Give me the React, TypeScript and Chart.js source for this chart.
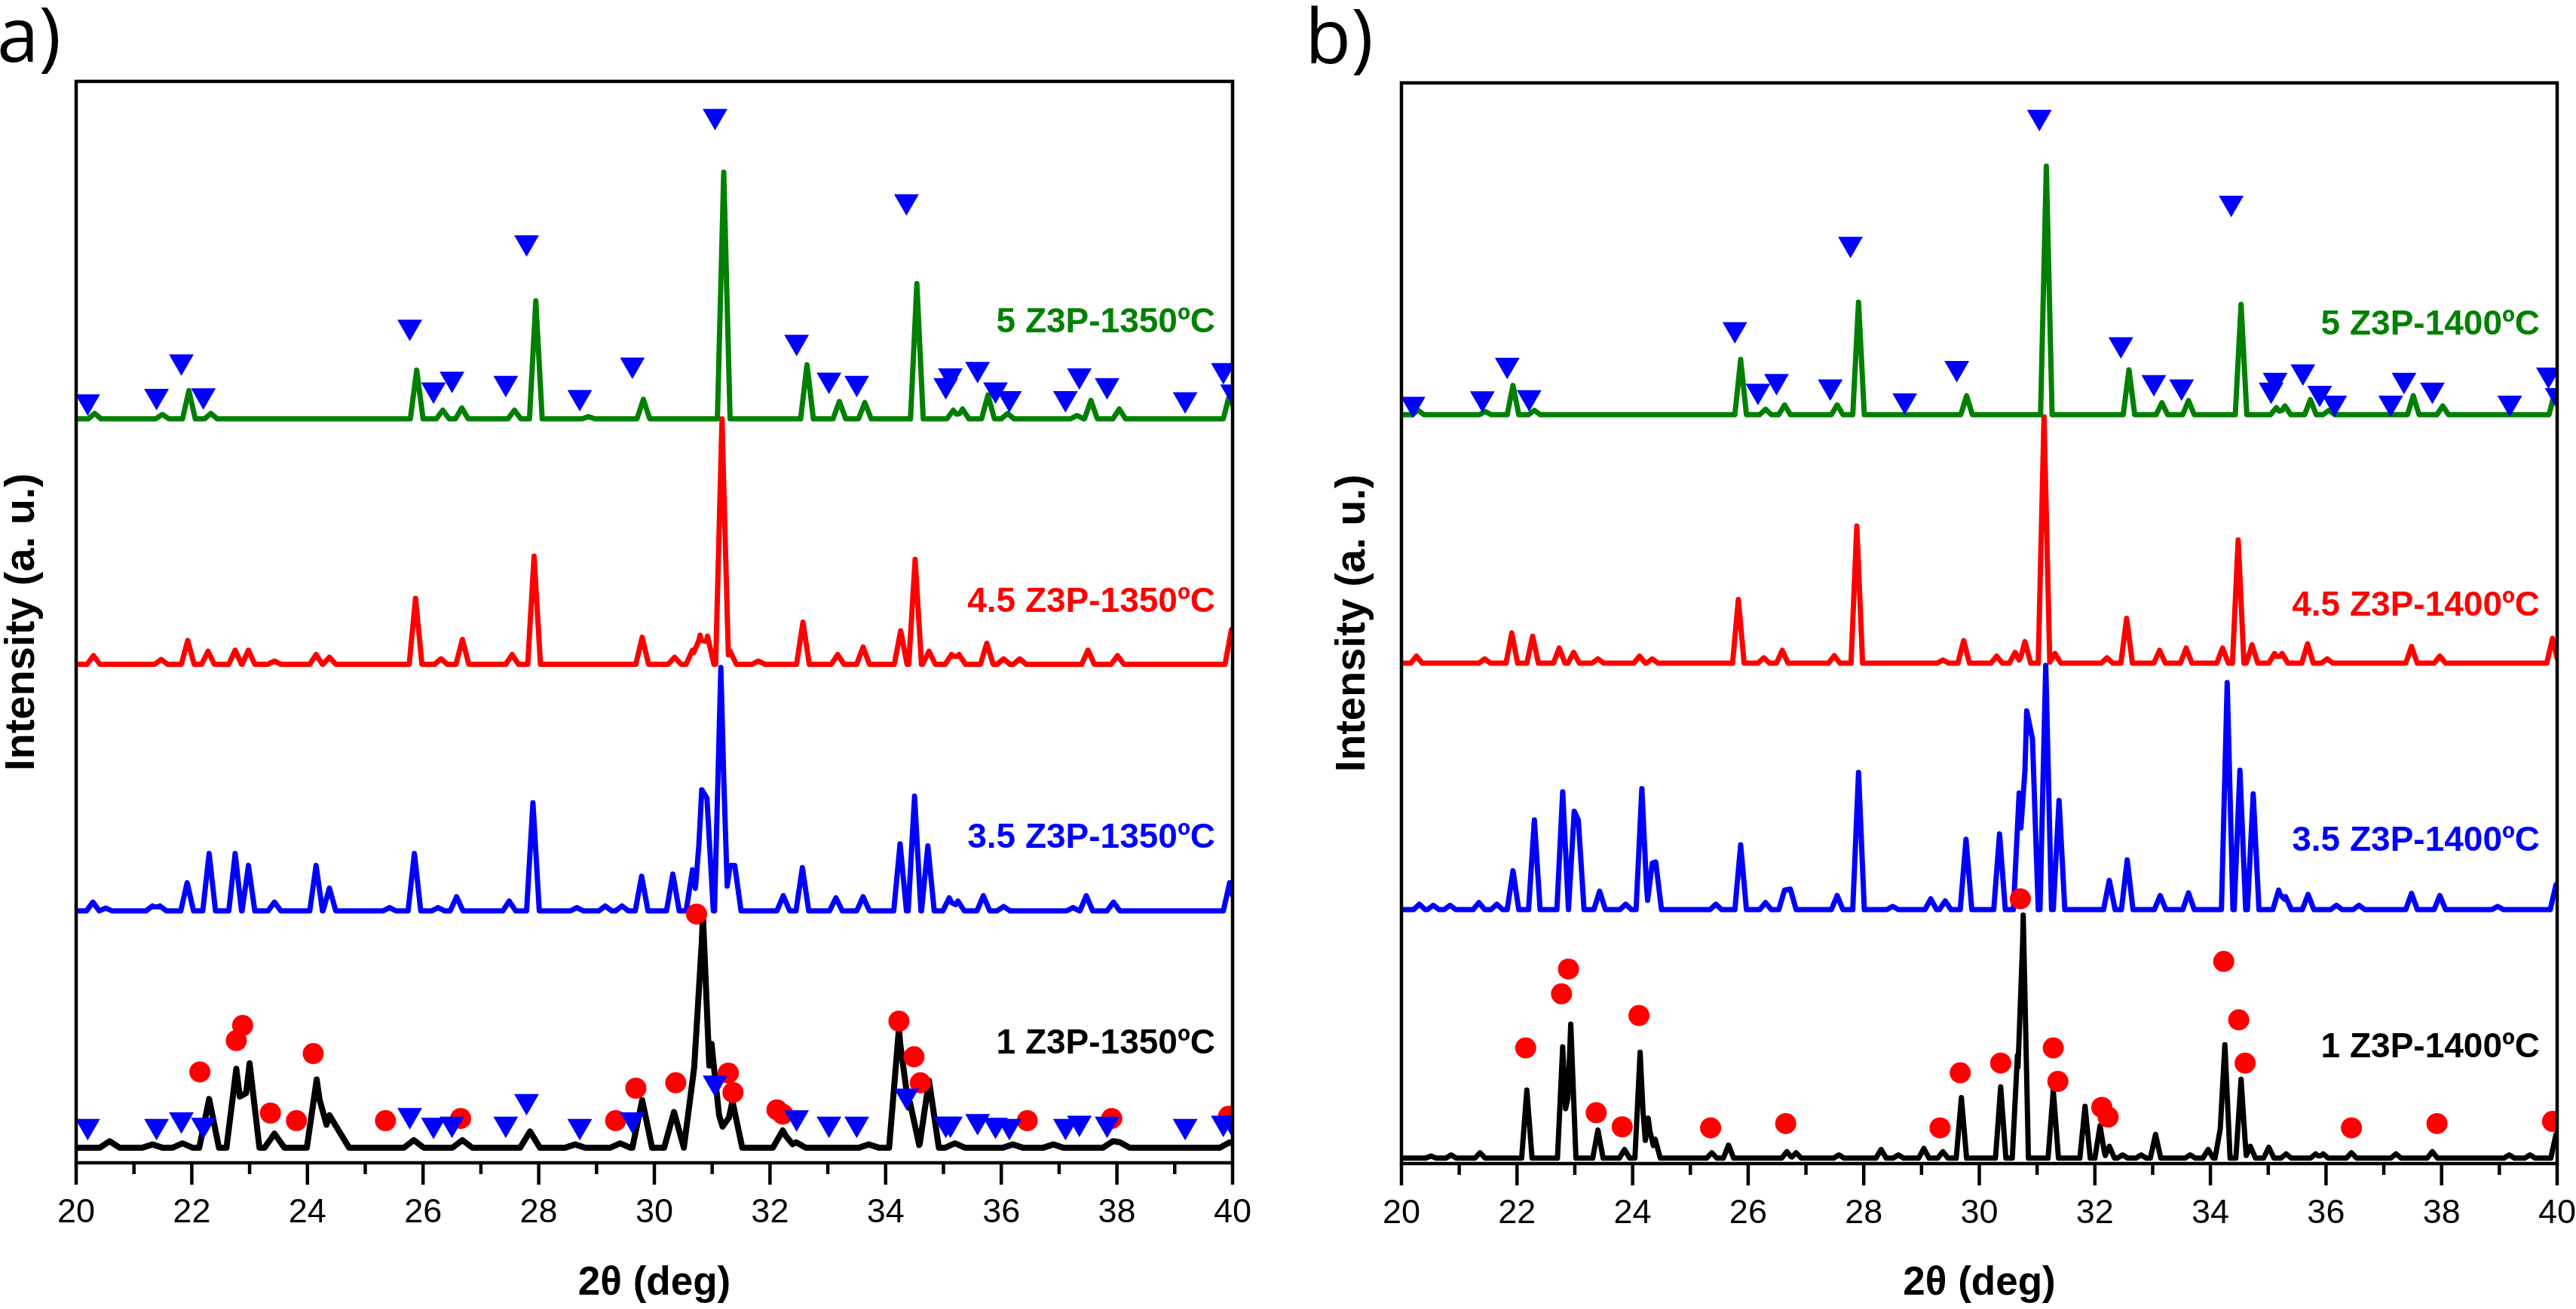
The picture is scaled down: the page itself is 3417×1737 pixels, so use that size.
import React, { useEffect, useRef } from 'react';
import { Chart, registerables } from 'chart.js';

Chart.register(...registerables);

// ---------- shared axis data ----------
const X_MIN = 20;
const X_MAX = 40;
const X_TICK_STEP = 2;
const Y_MIN = 0;
const Y_MAX = 100;

const COLORS = ['#008000', '#ff0000', '#0000ff', '#000000'];

// ---------- panel a (1350 ºC) ----------
const A_LABELS = ['5 Z3P-1350ºC', '4.5 Z3P-1350ºC', '3.5 Z3P-1350ºC', '1 Z3P-1350ºC'];
const A_LABEL_Y = [77.7, 51.8, 30.0, 11.0];
const A_BASELINES = [68.8, 46.1, 23.3, 1.4];

// peaks: [2θ, height above the pattern's baseline]
const A_GREEN: [number, number][] = [
  [20.32, 0.5], [21.49, 0.4], [21.95, 2.6], [22.33, 0.5], [25.89, 4.5], [26.34, 0.8], [26.67, 1.0],
  [27.58, 0.8], [27.95, 10.9], [28.86, 0.2], [29.81, 1.8], [31.2, 22.8], [32.64, 5.0], [33.2, 1.6],
  [33.64, 1.5], [34.54, 12.5], [35.17, 0.8], [35.33, 0.9], [35.77, 2.2], [36.11, 0.5], [37.31, 0.3],
  [37.55, 1.7], [38.04, 0.9], [39.95, 2.3],
];
const A_RED: [number, number][] = [
  [20.3, 0.8], [21.47, 0.45], [21.93, 2.2], [22.28, 1.2], [22.75, 1.3], [22.98, 1.3], [23.43, 0.3],
  [24.15, 0.9], [24.38, 0.65], [25.87, 6.1], [26.31, 0.5], [26.68, 2.3], [27.54, 0.9], [27.92, 10.0],
  [29.79, 2.5], [30.35, 0.65], [30.66, 1.3], [30.79, 2.7], [30.92, 2.6], [31.17, 22.7], [31.31, 1.2],
  [31.8, 0.3], [32.57, 3.9], [33.17, 0.9], [33.61, 1.6], [34.26, 3.1], [34.51, 9.7], [34.75, 1.2],
  [35.14, 0.9], [35.27, 0.9], [35.75, 1.95], [36.04, 0.5], [36.32, 0.5], [37.5, 1.3], [38.01, 0.8],
  [39.98, 3.2],
];
const A_BLUE: [number, number][] = [
  [20.29, 0.8], [20.51, 0.25], [21.32, 0.45], [21.45, 0.45], [21.92, 2.6], [22.3, 5.3], [22.75, 5.3],
  [22.98, 4.2], [23.43, 0.8], [24.15, 4.2], [24.38, 2.1], [25.42, 0.3], [25.85, 5.3], [26.26, 0.3],
  [26.58, 1.3], [27.49, 0.9], [27.9, 10.0], [28.66, 0.3], [29.15, 0.45], [29.44, 0.45], [29.78, 3.2],
  [30.32, 3.4], [30.66, 3.8], [30.82, 11.2], [30.91, 10.4], [31.15, 22.5], [31.31, 4.2], [31.39, 4.2],
  [32.23, 1.4], [32.56, 4.0], [33.14, 1.2], [33.61, 1.3], [34.25, 6.2], [34.5, 10.6], [34.73, 6.0],
  [35.1, 1.2], [35.25, 0.9], [35.69, 1.4], [36.04, 0.4], [37.24, 0.3], [37.47, 1.4], [37.94, 0.8],
  [39.95, 2.6],
];
const A_BLACK: [number, number][] = [
  [20.58, 0.6], [21.32, 0.3], [21.84, 0.4], [22.3, 4.5], [22.77, 7.3], [23.0, 7.8], [23.43, 1.3],
  [24.16, 6.3], [24.38, 3.0], [24.55, 1.5], [25.84, 0.7], [26.68, 0.7], [27.85, 1.5], [28.63, 0.3],
  [29.41, 0.4], [29.79, 4.4], [30.34, 3.3], [30.69, 7.5], [30.84, 21.5], [30.99, 9.6], [31.12, 3.0],
  [31.35, 4.3], [32.22, 1.6], [32.45, 0.5], [33.71, 0.3], [34.23, 11.0], [34.42, 4.2], [34.75, 6.2],
  [35.2, 0.4], [36.2, 0.3], [36.9, 0.3], [37.93, 0.6], [38.05, 0.5], [39.95, 0.5],
];

// phase markers: [2θ, level]
const A_TRI_TOP: [number, number][] = [
  [20.2, 70.4], [21.39, 70.9], [21.82, 74.1], [22.2, 70.95], [25.77, 77.3], [26.18, 71.5], [26.5, 72.5],
  [27.43, 72.1], [27.79, 85.1], [28.71, 70.8], [29.62, 73.8], [31.05, 96.8], [32.46, 75.9], [33.02, 72.4],
  [33.5, 72.1], [34.36, 88.9], [35.04, 71.9], [35.12, 72.8], [35.59, 73.4], [35.9, 71.5], [36.14, 70.7],
  [37.11, 70.7], [37.35, 72.8], [37.83, 71.9], [39.18, 70.6], [39.84, 73.3], [40.0, 71.3],
];
const A_TRI_BOTTOM: [number, number][] = [
  [20.2, 3.4], [21.39, 3.4], [21.82, 4.0], [22.2, 3.5], [25.77, 4.4], [26.18, 3.5], [26.5, 3.6],
  [27.43, 3.6], [27.79, 5.7], [28.71, 3.4], [29.62, 4.0], [31.05, 7.4], [32.46, 4.2], [33.02, 3.6],
  [33.5, 3.6], [34.36, 6.2], [35.04, 3.6], [35.12, 3.6], [35.59, 3.85], [35.9, 3.5], [36.14, 3.4],
  [37.11, 3.4], [37.35, 3.7], [37.83, 3.6], [39.18, 3.4], [39.84, 3.7], [40.0, 3.6],
];
const A_CIRCLES: [number, number][] = [
  [22.14, 8.4], [22.77, 11.3], [22.88, 12.7], [23.36, 4.6], [23.81, 3.9], [24.1, 10.1], [25.35, 3.9],
  [26.65, 4.1], [29.33, 3.9], [29.68, 6.9], [30.37, 7.4], [30.73, 23.0], [31.28, 8.3], [31.36, 6.5],
  [32.12, 4.9], [32.22, 4.5], [34.23, 13.1], [34.49, 9.8], [34.6, 7.4], [36.45, 3.9], [37.91, 4.1],
  [39.93, 4.3],
];

// ---------- panel b (1400 ºC) ----------
const B_LABELS = ['5 Z3P-1400ºC', '4.5 Z3P-1400ºC', '3.5 Z3P-1400ºC', '1 Z3P-1400ºC'];
const B_LABEL_Y = [77.6, 51.6, 29.8, 10.7];
const B_BASELINES = [69.3, 46.3, 23.5, 0.5];

const B_GREEN: [number, number][] = [
  [20.29, 0.4], [21.45, 0.3], [21.93, 2.7], [22.3, 0.4], [25.87, 5.1], [26.3, 0.5], [26.63, 0.9],
  [27.54, 0.9], [27.91, 10.4], [29.78, 1.75], [31.16, 23.0], [32.59, 4.15], [33.16, 1.1], [33.62, 1.3],
  [34.53, 10.2], [35.14, 0.65], [35.29, 0.8], [35.73, 1.4], [36.05, 0.4], [37.51, 1.75], [38.02, 0.8],
  [39.96, 2.1],
];
const B_RED: [number, number][] = [
  [20.26, 0.65], [21.44, 0.4], [21.91, 2.8], [22.27, 2.5], [22.73, 1.4], [22.98, 1.0], [23.4, 0.4],
  [24.12, 0.65], [24.34, 0.4], [25.83, 5.9], [26.27, 0.5], [26.59, 1.2], [27.49, 0.7], [27.88, 12.7],
  [29.37, 0.3], [29.73, 2.1], [30.3, 0.65], [30.62, 1.0], [30.79, 2.0], [31.12, 22.8], [31.31, 0.9],
  [32.21, 0.5], [32.55, 4.15], [33.12, 1.2], [33.58, 1.4], [34.21, 1.4], [34.48, 11.4], [34.72, 1.7],
  [35.11, 0.9], [35.24, 0.9], [35.68, 1.8], [36.02, 0.4], [37.48, 1.55], [37.97, 0.65], [39.92, 2.3],
];
const B_BLUE: [number, number][] = [
  [20.31, 0.5], [20.55, 0.4], [20.84, 0.4], [21.34, 0.65], [21.65, 0.5], [21.93, 3.6], [22.3, 8.3],
  [22.79, 10.9], [22.99, 9.1], [23.06, 8.3], [23.43, 1.7], [23.88, 0.5], [24.16, 11.2], [24.34, 4.3],
  [24.4, 4.4], [25.44, 0.5], [25.87, 6.0], [26.3, 0.65], [26.63, 1.8], [26.73, 1.9], [27.54, 1.3],
  [27.91, 12.7], [28.5, 0.3], [29.16, 1.0], [29.41, 0.8], [29.77, 6.5], [30.35, 7.0], [30.69, 10.8],
  [30.82, 18.4], [30.92, 15.8], [31.15, 22.6], [31.38, 10.1], [32.25, 2.7], [32.56, 4.6], [33.13, 1.3],
  [33.62, 1.55], [34.29, 21.0], [34.51, 12.9], [34.74, 10.7], [35.18, 1.8], [35.3, 1.2], [35.69, 1.4],
  [36.18, 0.4], [36.57, 0.4], [37.48, 1.5], [37.97, 1.3], [38.97, 0.3], [39.98, 2.3],
];
const B_BLACK: [number, number][] = [
  [20.51, 0.2], [20.86, 0.3], [21.36, 0.5], [22.17, 6.3], [22.79, 10.3], [22.93, 12.4], [23.4, 2.6],
  [23.86, 0.8], [24.13, 9.8], [24.27, 3.7], [24.39, 1.75], [25.37, 0.5], [25.66, 1.2], [26.67, 0.6],
  [26.83, 0.5], [27.57, 0.3], [28.3, 0.8], [28.6, 0.3], [29.04, 0.9], [29.37, 0.6], [29.69, 5.6],
  [30.37, 6.6], [30.66, 9.5], [30.76, 22.5], [31.28, 6.3], [31.83, 4.8], [32.09, 3.0], [32.25, 1.1],
  [32.48, 0.3], [32.8, 0.3], [33.05, 2.2], [33.65, 0.3], [33.96, 0.8], [34.17, 2.7], [34.25, 10.5],
  [34.53, 7.3], [34.69, 1.1], [35.01, 1.0], [35.31, 0.4], [35.82, 0.4], [35.95, 0.4], [36.44, 0.5],
  [37.21, 0.4], [37.84, 0.6], [39.17, 0.3], [39.53, 0.3], [39.98, 2.2],
];

const B_TRI_TOP: [number, number][] = [
  [20.2, 70.3], [21.4, 70.8], [21.83, 73.9], [22.21, 70.9], [25.77, 77.2], [26.17, 71.5], [26.49, 72.4],
  [27.42, 71.9], [27.77, 85.1], [28.71, 70.6], [29.61, 73.6], [31.04, 96.85], [32.45, 75.8], [33.02, 72.3],
  [33.5, 71.9], [34.36, 88.9], [35.05, 71.6], [35.12, 72.5], [35.6, 73.3], [35.89, 71.3], [36.15, 70.4],
  [37.12, 70.4], [37.35, 72.5], [37.84, 71.6], [39.18, 70.4], [39.85, 73.0], [40.0, 71.1],
];
const B_CIRCLES: [number, number][] = [
  [22.15, 10.7], [22.77, 15.7], [22.89, 18.0], [23.37, 4.7], [23.82, 3.4], [24.11, 13.7], [25.35, 3.3],
  [26.65, 3.7], [29.32, 3.3], [29.67, 8.4], [30.37, 9.3], [30.71, 24.5], [31.28, 10.7], [31.36, 7.6],
  [32.12, 5.2], [32.23, 4.3], [34.23, 18.7], [34.49, 13.3], [34.6, 9.3], [36.44, 3.3], [37.92, 3.7],
  [39.92, 3.9],
];

// ---------- helpers ----------
// Build a line table from a peak list: each read peak is drawn as a narrow peak on its baseline.
function buildPattern(peaks: [number, number][], base: number, hw: number) {
  const xs = new Set<number>([X_MIN, X_MAX]);
  peaks.forEach(([p]) => {
    xs.add(+(p - hw).toFixed(4));
    xs.add(p);
    xs.add(+(p + hw).toFixed(4));
  });
  return [...xs]
    .filter((x) => x >= X_MIN && x <= X_MAX)
    .sort((a, b) => a - b)
    .map((x) => {
      let h = 0;
      peaks.forEach(([p, ph]) => {
        const v = ph * Math.max(0, 1 - Math.abs(x - p) / hw);
        if (v > h) h = v;
      });
      return { x, y: base + h };
    });
}

const toPts = (arr: [number, number][]) => arr.map(([x, y]) => ({ x, y }));

const FONT = '"Liberation Sans", Arial, Helvetica, sans-serif';

const decorPlugin = {
  id: 'decor',
  afterDatasetsDraw(chart: any, _args: any, opts: any) {
    const { ctx, chartArea: a, scales } = chart;
    const xs = scales.x;
    const ys = scales.y;
    ctx.save();
    // frame
    ctx.strokeStyle = '#000';
    ctx.lineWidth = 4.5;
    ctx.strokeRect(a.left, a.top, a.right - a.left, a.bottom - a.top);
    // major / minor ticks (outside, bottom)
    for (let v = X_MIN; v <= X_MAX; v += 1) {
      const px = xs.getPixelForValue(v);
      const len = v % X_TICK_STEP === 0 ? 29 : 15;
      ctx.beginPath();
      ctx.moveTo(px, a.bottom);
      ctx.lineTo(px, a.bottom + len);
      ctx.stroke();
    }
    // series labels
    ctx.font = `bold 46px ${FONT}`;
    ctx.textAlign = 'right';
    ctx.textBaseline = 'middle';
    opts.labels.forEach((t: string, i: number) => {
      ctx.fillStyle = COLORS[i];
      ctx.fillText(t, xs.getPixelForValue(X_MAX) - 23, ys.getPixelForValue(opts.labelY[i]));
    });
    // panel letter
    ctx.fillStyle = '#000';
    ctx.font = `100px "Open Sans", "Noto Sans", sans-serif`;
    ctx.textAlign = 'left';
    ctx.textBaseline = 'alphabetic';
    ctx.fillText(opts.letter, opts.letterX, opts.letterY);
    ctx.restore();
  },
};

type PanelProps = {
  canvasLeft: number;
  canvasWidth: number;
  plotLeft: number;
  plotRight: number;
  plotTop: number;
  plotBottom: number;
  yTitlePad: number;
  letter: string;
  letterX: number;
  letterY: number;
  labels: string[];
  labelY: number[];
  series: { x: number; y: number }[][];
  triangles: { x: number; y: number }[][];
  circles: { x: number; y: number }[];
  lineWidths: number[];
};

const H = 1737;

function Panel(p: PanelProps) {
  const ref = useRef<HTMLCanvasElement>(null);
  useEffect(() => {
    if (!ref.current) return;
    const datasets: any[] = [];
    p.triangles.forEach((t) =>
      datasets.push({
        data: t,
        showLine: false,
        pointStyle: 'triangle',
        pointRotation: 180,
        pointRadius: 19,
        pointBackgroundColor: '#0000ff',
        pointBorderWidth: 0,
        borderColor: '#0000ff',
      })
    );
    datasets.push({
      data: p.circles,
      showLine: false,
      pointStyle: 'circle',
      pointRadius: 14,
      pointBackgroundColor: '#ff0000',
      pointBorderWidth: 0,
      borderColor: '#ff0000',
    });
    p.series.forEach((s, i) =>
      datasets.push({
        data: s,
        borderColor: COLORS[i],
        borderWidth: p.lineWidths[i],
        pointRadius: 0,
        tension: 0,
        fill: false,
        borderJoinStyle: 'round',
        borderCapStyle: 'round',
      })
    );
    const chart = new Chart(ref.current, {
      type: 'line',
      data: { datasets },
      plugins: [decorPlugin],
      options: {
        animation: false,
        responsive: false,
        maintainAspectRatio: false,
        devicePixelRatio: 1,
        events: [],
        layout: { padding: { left: 0, top: p.plotTop, right: p.canvasWidth - p.plotRight, bottom: 0 } },
        plugins: {
          legend: { display: false },
          tooltip: { enabled: false },
          decor: { labels: p.labels, labelY: p.labelY, letter: p.letter, letterX: p.letterX, letterY: p.letterY },
        } as any,
        scales: {
          x: {
            type: 'linear',
            min: X_MIN,
            max: X_MAX,
            position: 'bottom',
            grid: { display: false, drawTicks: false },
            border: { display: false },
            ticks: {
              stepSize: X_TICK_STEP,
              autoSkip: false,
              maxRotation: 0,
              padding: 40,
              color: '#000',
              font: { family: FONT, size: 45 },
            },
            title: {
              display: true,
              text: '2θ (deg)',
              color: '#000',
              font: { family: FONT, size: 53, weight: 'bold', lineHeight: 1.2 },
              padding: { top: 0, bottom: 2 },
            },
            afterFit: (s: any) => {
              s.height = H - p.plotBottom;
            },
          },
          y: {
            type: 'linear',
            min: Y_MIN,
            max: Y_MAX,
            grid: { display: false, drawTicks: false },
            border: { display: false },
            ticks: { display: false },
            title: {
              display: true,
              text: 'Intensity (a. u.)',
              color: '#000',
              font: { family: FONT, size: 56, weight: 'bold', lineHeight: 1 },
              padding: { top: p.yTitlePad, bottom: 0 },
            },
            afterFit: (s: any) => {
              s.width = p.plotLeft;
            },
          },
        } as any,
      },
    });
    return () => chart.destroy();
  }, []);
  return (
    <canvas
      ref={ref}
      width={p.canvasWidth}
      height={H}
      style={{ position: 'absolute', left: p.canvasLeft, top: 0, width: p.canvasWidth, height: H }}
    />
  );
}

export default function App() {
  const aSeries = [
    buildPattern(A_GREEN, A_BASELINES[0], 0.11),
    buildPattern(A_RED, A_BASELINES[1], 0.11),
    buildPattern(A_BLUE, A_BASELINES[2], 0.11),
    buildPattern(A_BLACK, A_BASELINES[3], 0.17),
  ];
  const bSeries = [
    buildPattern(B_GREEN, B_BASELINES[0], 0.1),
    buildPattern(B_RED, B_BASELINES[1], 0.1),
    buildPattern(B_BLUE, B_BASELINES[2], 0.1),
    buildPattern(B_BLACK, B_BASELINES[3], 0.09),
  ];
  return (
    <div style={{ position: 'absolute', left: 0, top: 0, width: 3417, height: H, overflow: 'hidden', background: '#fff' }}>
      <Panel
        canvasLeft={0}
        canvasWidth={1700}
        plotLeft={101}
        plotRight={1635}
        plotTop={108}
        plotBottom={1543}
        yTitlePad={2}
        letter="a)"
        letterX={-4}
        letterY={82}
        labels={A_LABELS}
        labelY={A_LABEL_Y}
        series={aSeries}
        triangles={[toPts(A_TRI_TOP), toPts(A_TRI_BOTTOM)]}
        circles={toPts(A_CIRCLES)}
        lineWidths={[7, 7, 7, 8]}
      />
      <Panel
        canvasLeft={1700}
        canvasWidth={1760}
        plotLeft={159}
        plotRight={1692}
        plotTop={110}
        plotBottom={1544}
        yTitlePad={67}
        letter="b)"
        letterX={31}
        letterY={84}
        labels={B_LABELS}
        labelY={B_LABEL_Y}
        series={bSeries}
        triangles={[toPts(B_TRI_TOP)]}
        circles={toPts(B_CIRCLES)}
        lineWidths={[7, 7, 7, 7]}
      />
    </div>
  );
}
